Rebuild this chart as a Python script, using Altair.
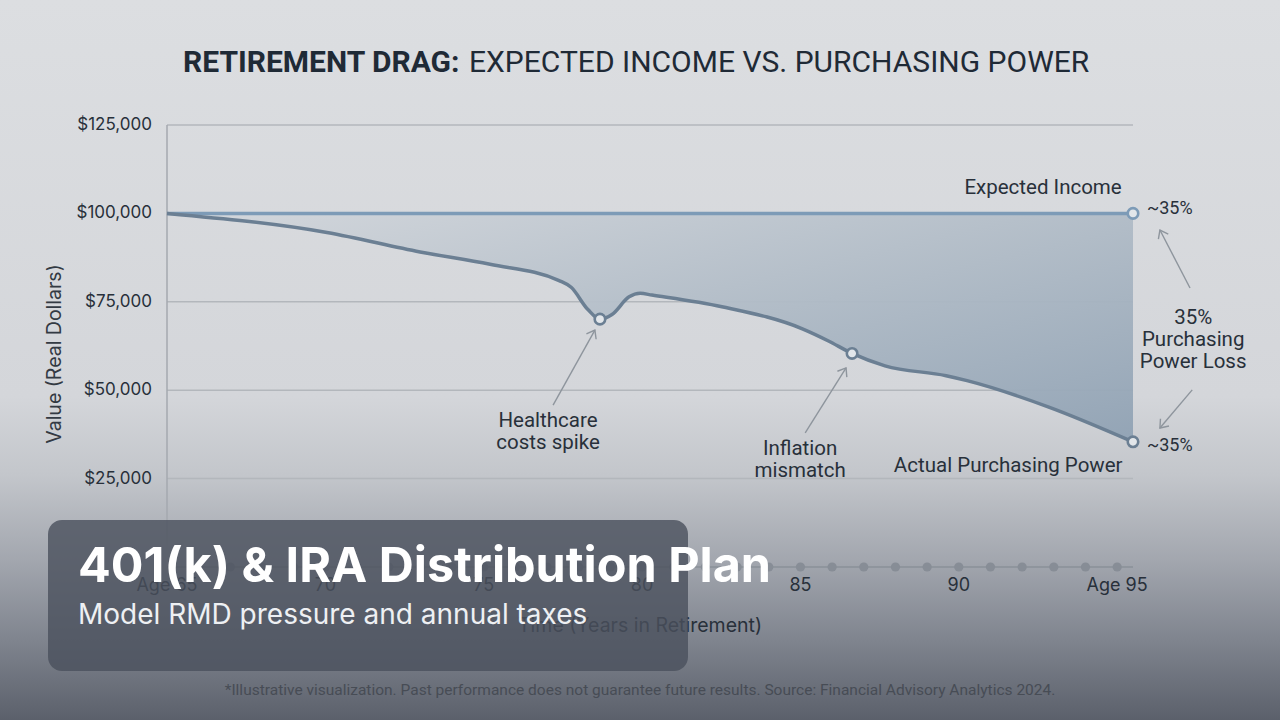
import math
import altair as alt
import pandas as pd

# ---- data -------------------------------------------------------------
# Actual purchasing power (real dollars) along the retirement timeline
ages = [65.0, 70.05, 72.99, 75.20, 77.38, 77.76, 78.29, 78.67, 79.05, 79.59,
        79.94, 80.31, 82.52, 85.08, 85.87, 86.63, 87.67, 89.60, 90.26, 92.82, 95.5]
actual_power = [100000, 94600, 89100, 85600, 81000, 79100, 72800, 70100, 71400, 76400,
                77400, 76900, 73600, 67300, 64000, 60400, 56900, 54100, 52700, 45300, 35400]
expected_income = 100000

# Highlighted points on the curves
marker_ages = [78.67, 86.63, 95.5, 95.5]
marker_values = [70100, 60400, 100000, 35400]

# Yearly markers along the time axis
year_dots = list(range(66, 96))

# Axis ticks
y_ticks = [25000, 50000, 75000, 100000, 125000]
y_tick_labels = ["$25,000", "$50,000", "$75,000", "$100,000", "$125,000"]
x_ticks = [65, 70, 75, 80, 85, 90, 95]
x_tick_labels = ["Age 65", "70", "75", "80", "85", "90", "Age 95"]

# Annotation text (age, value, text)
note_ages = [92.66, 95.94, 95.94, 97.40, 97.40, 97.40, 77.03, 77.03, 84.99, 84.99, 91.56]
note_values = [107200, 101200, 34200, 70400, 64200, 58000, 41300, 35100, 33400, 27100, 28600]
note_texts = ["Expected Income", "~35%", "~35%", "35%", "Purchasing", "Power Loss",
              "Healthcare", "costs spike", "Inflation", "mismatch", "Actual Purchasing Power"]
note_align = ["center", "left", "left", "center", "center", "center",
              "center", "center", "center", "center", "center"]

# Annotation arrows: tail (age, value) -> head (age, value)
arrow_tail_age = [97.30, 97.37, 77.19, 85.15]
arrow_tail_val = [78900, 50100, 45800, 37900]
arrow_head_age = [96.35, 96.35, 78.51, 86.44]
arrow_head_val = [95300, 39300, 67000, 56300]

# ---- layout ------------------------------------------------------------
W, H = 966, 442
PAD = {"left": 167, "top": 125, "right": 147, "bottom": 153}
X_DOM = [65, 95.5]
Y_DOM = [0, 125000]

FONT = "Inter"
LABEL_FONT = "Roboto"
INK = "#28303a"

xs = alt.Scale(domain=X_DOM, nice=False, zero=False)
ys = alt.Scale(domain=Y_DOM, nice=False, zero=False)


def X(field):
    return alt.X(f"{field}:Q", scale=xs, axis=None)


def Y(field):
    return alt.Y(f"{field}:Q", scale=ys, axis=None)


one = pd.DataFrame({"k": [0]})

# ---- background ----------------------------------------------------------
background = alt.Chart(one).mark_rect(
    fill=alt.Gradient(
        gradient="linear", x1=0, x2=0, y1=0, y2=1,
        stops=[
            alt.GradientStop(color="#dcdee1", offset=0.0),
            alt.GradientStop(color="#d4d6da", offset=0.55),
            alt.GradientStop(color="#c3c6cb", offset=0.66),
            alt.GradientStop(color="#a2a6ae", offset=0.78),
            alt.GradientStop(color="#7f848e", offset=0.89),
            alt.GradientStop(color="#5b606b", offset=1.0),
        ],
    )
).encode(
    x=alt.value(-PAD["left"]), x2=alt.value(W + PAD["right"]),
    y=alt.value(-PAD["top"]), y2=alt.value(H + PAD["bottom"]),
)

# ---- grid and axis lines -----------------------------------------------
grid_df = pd.DataFrame({"v": y_ticks})
grid = alt.Chart(grid_df).mark_rule(color="#b3b7bc", strokeWidth=1.5).encode(
    y=Y("v"), x=alt.value(0), x2=alt.value(W)
)

yaxis_line = alt.Chart(pd.DataFrame({"age": [X_DOM[0]], "v0": [0], "v1": [Y_DOM[1]]})).mark_rule(
    color="#a5a9af", strokeWidth=1.5
).encode(x=X("age"), y=Y("v0"), y2="v1:Q")

baseline = alt.Chart(pd.DataFrame({"v": [0]})).mark_rule(color="#8a9099", strokeWidth=1.5).encode(
    y=Y("v"), x=alt.value(0), x2=alt.value(W)
)

dots = alt.Chart(pd.DataFrame({"age": year_dots, "v": [0] * len(year_dots)})).mark_point(
    filled=True, color="#878d96", opacity=1, size=85
).encode(x=X("age"), y=Y("v"))

# ---- series ------------------------------------------------------------
series = pd.DataFrame({"age": ages, "actual": actual_power,
                       "expected": [expected_income] * len(ages)})

gap_area = alt.Chart(series).mark_area(
    interpolate="monotone",
    fill=alt.Gradient(
        gradient="linear", x1=0, y1=0, x2=1, y2=1,
        stops=[
            alt.GradientStop(color="#d3d7dc", offset=0.0),
            alt.GradientStop(color="#b1bcc7", offset=0.5),
            alt.GradientStop(color="#90a2b4", offset=1.0),
        ],
    ),
    opacity=0.95,
).encode(x=X("age"), y=Y("actual"), y2="expected:Q")

expected_line = alt.Chart(series).mark_line(color="#7d9bb7", strokeWidth=3.5).encode(
    x=X("age"), y=Y("expected")
)

actual_line = alt.Chart(series).mark_line(
    color="#6b7f93", strokeWidth=3.5, interpolate="monotone"
).encode(x=X("age"), y=Y("actual"))

markers_df = pd.DataFrame({"age": marker_ages, "v": marker_values,
                           "c": ["#6b7f93", "#6b7f93", "#7d9bb7", "#6b7f93"]})
markers = alt.Chart(markers_df).mark_point(
    filled=True, fill="#e2e6ea", strokeWidth=2.6, size=110, opacity=1
).encode(x=X("age"), y=Y("v"), stroke=alt.Stroke("c:N", scale=None))

# ---- annotations -------------------------------------------------------
notes_df = pd.DataFrame({"age": note_ages, "v": note_values, "t": note_texts, "al": note_align})
notes_center = alt.Chart(notes_df[notes_df["al"] == "center"]).mark_text(
    font=LABEL_FONT, fontSize=20.5, color=INK, align="center", baseline="middle"
).encode(x=X("age"), y=Y("v"), text="t:N")
notes_left = alt.Chart(notes_df[notes_df["al"] == "left"]).mark_text(
    font=LABEL_FONT, fontSize=18, color=INK, align="left", baseline="middle"
).encode(x=X("age"), y=Y("v"), text="t:N")


def px(a):
    return (a - X_DOM[0]) / (X_DOM[1] - X_DOM[0]) * W


def py(v):
    return (Y_DOM[1] - v) / (Y_DOM[1] - Y_DOM[0]) * H


angles = []
for ta, tv, ha, hv in zip(arrow_tail_age, arrow_tail_val, arrow_head_age, arrow_head_val):
    dx = px(ha) - px(ta)
    dy = py(hv) - py(tv)
    angles.append(math.degrees(math.atan2(dx, -dy)) % 360)

arrows_df = pd.DataFrame({"a0": arrow_tail_age, "v0": arrow_tail_val,
                          "a1": arrow_head_age, "v1": arrow_head_val, "ang": angles})
ARROW = "#8e959d"
arrow_shafts = alt.Chart(arrows_df).mark_rule(color=ARROW, strokeWidth=1.4).encode(
    x=X("a0"), y=Y("v0"), x2="a1:Q", y2="v1:Q"
)
arrow_heads = alt.Chart(arrows_df).mark_point(
    shape="M-0.75,1L0,0L0.75,1", filled=False, stroke=ARROW, strokeWidth=1.4,
    size=220, opacity=1
).encode(x=X("a1"), y=Y("v1"), angle=alt.Angle("ang:Q", scale=None))

# ---- axis labels & titles ----------------------------------------------
ylab_df = pd.DataFrame({"v": y_ticks, "t": y_tick_labels})
y_labels = alt.Chart(ylab_df).mark_text(
    font=FONT, fontSize=17, color=INK, align="right", baseline="middle"
).encode(y=Y("v"), x=alt.value(-15), text="t:N")

xlab_df = pd.DataFrame({"age": x_ticks, "t": x_tick_labels})
x_labels = alt.Chart(xlab_df).mark_text(
    font=FONT, fontSize=18, color=INK, align="center", baseline="middle"
).encode(x=X("age"), y=alt.value(H + 19), text="t:N")

y_title = alt.Chart(one).mark_text(
    font=FONT, fontSize=19.5, color="#333a43", angle=270, align="center", baseline="middle"
).encode(x=alt.value(-112), y=alt.value(229), text=alt.value("Value (Real Dollars)"))

x_title = alt.Chart(one).mark_text(
    font=FONT, fontSize=19.5, color=INK, align="center", baseline="middle"
).encode(x=alt.value(473), y=alt.value(501), text=alt.value("Time (Years in Retirement)"))

title_bold = alt.Chart(one).mark_text(
    font=LABEL_FONT, fontSize=30, fontWeight="bold", color="#1f2a36", align="left", baseline="middle"
).encode(x=alt.value(16), y=alt.value(-62), text=alt.value("RETIREMENT DRAG:"))
title_rest = alt.Chart(one).mark_text(
    font=LABEL_FONT, fontSize=30, color="#1f2a36", align="left", baseline="middle"
).encode(x=alt.value(302), y=alt.value(-62), text=alt.value("EXPECTED INCOME VS. PURCHASING POWER"))

footer = alt.Chart(one).mark_text(
    font=LABEL_FONT, fontSize=15.5, color="#474c55", align="center", baseline="middle"
).encode(
    x=alt.value(473), y=alt.value(565),
    text=alt.value("*Illustrative visualization. Past performance does not guarantee future results. "
                   "Source: Financial Advisory Analytics 2024."),
)

# ---- overlay card ------------------------------------------------------
card = alt.Chart(one).mark_rect(fill="#4a505d", opacity=0.8, cornerRadius=14).encode(
    x=alt.value(48 - PAD["left"]), x2=alt.value(688 - PAD["left"]),
    y=alt.value(520 - PAD["top"]), y2=alt.value(671 - PAD["top"]),
)
card_title = alt.Chart(one).mark_text(
    font=FONT, fontSize=48.5, fontWeight="bold", color="#ffffff", align="left", baseline="middle"
).encode(x=alt.value(78 - PAD["left"]), y=alt.value(567 - PAD["top"]),
         text=alt.value("401(k) & IRA Distribution Plan"))
card_sub = alt.Chart(one).mark_text(
    font=FONT, fontSize=28, color="#eef0f3", align="left", baseline="middle"
).encode(x=alt.value(78 - PAD["left"]), y=alt.value(616 - PAD["top"]),
         text=alt.value("Model RMD pressure and annual taxes"))

chart = alt.layer(
    background, grid, yaxis_line, baseline, dots,
    gap_area, expected_line, actual_line,
    arrow_shafts, arrow_heads, markers,
    notes_center, notes_left,
    y_labels, x_labels, y_title, x_title, title_bold, title_rest, footer,
    card, card_title, card_sub,
).properties(
    width=W, height=H,
    autosize=alt.AutoSizeParams(type="none"),
    padding=PAD,
).configure(
    background="#dcdee1",
).configure_view(stroke=None)

chart.save("out.html", embed_options={"renderer": "svg", "actions": False})
